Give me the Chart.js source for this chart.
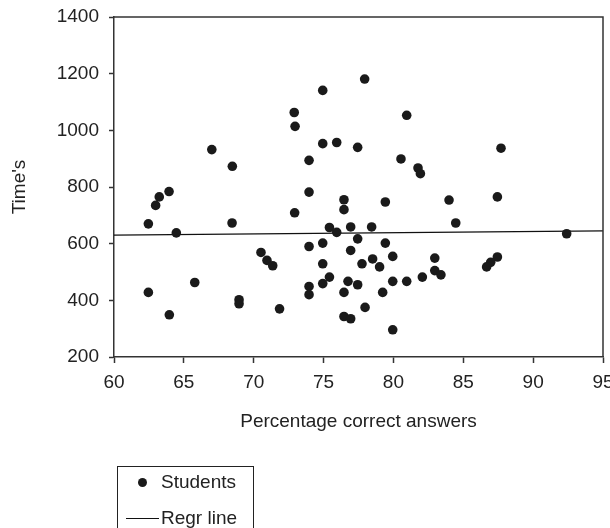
<!DOCTYPE html>
<html>
<head>
<meta charset="utf-8">
<script src="https://cdn.jsdelivr.net/npm/chart.js@4/dist/chart.umd.min.js"></script>
<style>
  html, body { margin: 0; padding: 0; background: #fff; }
  #wrap { position: relative; width: 610px; height: 528px; overflow: hidden; }
  #c { position: absolute; left: 0; top: 0; }
  #legend {
    position: absolute; left: 117px; top: 466px; width: 137px; height: 80px;
    border: 1px solid #222; box-sizing: border-box;
    font-family: "Liberation Sans", Arial, sans-serif; font-size: 19px; color: #222;
  }
  .item { position: absolute; left: 0; height: 24px; line-height: 24px; white-space: nowrap; }
  .item .lbl { position: absolute; left: 43px; top: 0; }
  .dot { position: absolute; left: 20px; top: 7.5px; width: 9px; height: 9px; border-radius: 50%; background: #1a1a1a; }
  .ln { position: absolute; left: 8px; top: 11.5px; width: 33px; height: 0; border-top: 1.3px solid #111; }
</style>
</head>
<body>
<div id="wrap">
  <canvas id="c" width="610" height="528"></canvas>
  <div id="legend"></div>
</div>
<script>
// ---- data ----
const xTicks = [60, 65, 70, 75, 80, 85, 90, 95];
const yTicks = [200, 400, 600, 800, 1000, 1200, 1400];

const studentPct = [
  67.0, 68.47, 63.94, 63.24, 62.98, 62.46, 64.46, 68.45, 70.52, 70.95,
  71.36, 65.78, 62.46, 68.95, 68.95, 63.96, 71.85, 77.94, 74.94, 72.9,
  72.96, 80.95, 74.94, 75.94, 77.44, 73.96, 80.54, 81.76, 81.93, 73.96,
  76.46, 76.46, 79.42, 72.93, 75.42, 75.94, 76.94, 78.44, 77.44, 73.96,
  74.94, 79.42, 76.94, 79.95, 74.94, 77.75, 78.51, 79.01, 82.96, 82.96,
  83.4, 75.42, 74.94, 76.75, 77.44, 79.95, 80.95, 82.07, 73.96, 73.96,
  76.46, 79.23, 77.97, 76.46, 76.94, 79.95, 87.7, 83.98, 87.44, 84.46,
  92.4, 87.44, 86.96, 86.67
];
const studentTime = [
  932, 873, 784, 765, 735, 670, 638, 673, 569, 541,
  522, 463, 428, 402, 388, 349, 370, 1181, 1141, 1063,
  1014, 1053, 953, 957, 940, 894, 899, 867, 847, 782,
  755, 720, 747, 709, 657, 640, 659, 659, 617, 590,
  602, 602, 576, 555, 529, 529, 546, 518, 549, 505,
  490, 482, 459, 467, 455, 467, 467, 482, 449, 420,
  428, 428, 375, 343, 335, 296, 937, 754, 765, 673,
  635, 553, 534, 518
];
const regrX = [60, 95];
const regrY = [630, 645];

const seriesNames = ["Students", "Regr line"];
const xTitle = "Percentage correct answers";
const yTitle = "Time's";

// ---- build chart ----
const FONT = "'Liberation Sans', Arial, sans-serif";
const AX = '#333';

const studentPts = studentPct.map((x, i) => ({ x: x, y: studentTime[i] }));
const regrPts = regrX.map((x, i) => ({ x: x, y: regrY[i] }));

const framePlugin = {
  id: 'frame',
  afterDatasetsDraw(chart) {
    const a = chart.chartArea, ctx = chart.ctx;
    ctx.save();
    ctx.strokeStyle = AX;
    ctx.lineWidth = 1.5;
    ctx.beginPath();
    ctx.moveTo(a.left, a.top);
    ctx.lineTo(a.right, a.top);
    ctx.lineTo(a.right, a.bottom);
    ctx.stroke();
    ctx.restore();
  }
};

const chart = new Chart(document.getElementById('c'), {
  type: 'scatter',
  data: {
    datasets: [
      {
        label: seriesNames[0],
        data: studentPts,
        pointRadius: 4.8,
        pointHoverRadius: 4.8,
        pointBackgroundColor: '#1a1a1a',
        pointBorderWidth: 0,
        showLine: false
      },
      {
        label: seriesNames[1],
        type: 'line',
        data: regrPts,
        borderColor: '#111',
        borderWidth: 1.3,
        pointRadius: 0,
        fill: false,
        tension: 0
      }
    ]
  },
  options: {
    responsive: false,
    animation: false,
    events: [],
    layout: { padding: { top: 17, right: 7, left: 0, bottom: 95 } },
    plugins: { legend: { display: false }, tooltip: { enabled: false } },
    scales: {
      x: {
        type: 'linear',
        min: xTicks[0], max: xTicks[xTicks.length - 1],
        afterBuildTicks(s) { s.ticks = xTicks.map(v => ({ value: v })); },
        afterFit(s) { s.height = 76; s.paddingRight = 0; },
        ticks: { color: '#222', padding: 8, font: { family: FONT, size: 19 }, maxRotation: 0, autoSkip: false,
                 callback: v => String(v) },
        grid: { drawOnChartArea: false, drawTicks: true, tickLength: 6, tickColor: AX, tickWidth: 1.5 },
        border: { display: true, color: AX, width: 1.5 },
        title: { display: true, text: xTitle, color: '#222', font: { family: FONT, size: 19 }, padding: { top: 0, bottom: 0 } }
      },
      y: {
        type: 'linear',
        min: yTicks[0], max: yTicks[yTicks.length - 1],
        afterBuildTicks(s) { s.ticks = yTicks.map(v => ({ value: v })); },
        afterFit(s) { s.width = 114; s.paddingTop = 0; },
        ticks: { color: '#222', padding: 10, font: { family: FONT, size: 19 }, callback: v => String(v) },
        grid: { drawOnChartArea: false, drawTicks: true, tickLength: 5, tickColor: AX, tickWidth: 1.5 },
        border: { display: true, color: AX, width: 1.5 },
        title: { display: true, text: yTitle, color: '#222', font: { family: FONT, size: 19 }, padding: { top: 8, bottom: 0 } }
      }
    }
  },
  plugins: [framePlugin]
});

// ---- HTML legend built from the chart's datasets ----
const legend = document.getElementById('legend');
chart.data.datasets.forEach((ds, i) => {
  const item = document.createElement('div');
  item.className = 'item';
  item.style.top = (i === 0 ? 3 : 39) + 'px';
  const sym = document.createElement('span');
  sym.className = ds.type === 'line' ? 'ln' : 'dot';
  const lbl = document.createElement('span');
  lbl.className = 'lbl';
  lbl.textContent = ds.label;
  item.appendChild(sym);
  item.appendChild(lbl);
  legend.appendChild(item);
});
</script>
</body>
</html>
